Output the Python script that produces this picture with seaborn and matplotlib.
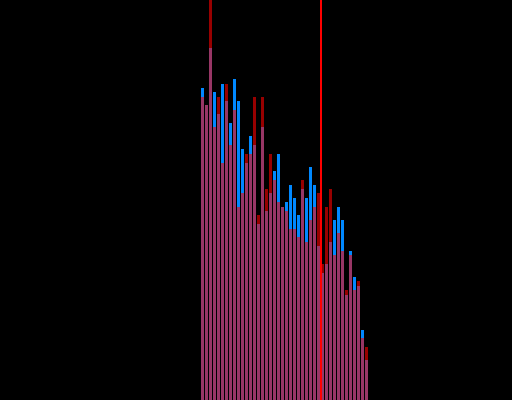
import numpy as np
import pandas as pd
import matplotlib
matplotlib.use("Agg")
import matplotlib.pyplot as plt
import seaborn as sns

# histogram counts per bin (42 bins)
bin_centers = np.arange(42) + 0.5
blue_counts = [71, 67, 80, 70, 65, 72, 68, 63, 73, 68, 57, 54, 60, 58, 40, 62, 43, 47, 52, 56, 44,
               45, 49, 46, 42, 48, 46, 53, 49, 35, 29, 31, 36, 41, 44, 41, 24, 34, 28, 26, 16, 9]
red_counts = [69, 67, 100, 62, 69, 54, 72, 58, 66, 44, 47, 56, 56, 69, 42, 69, 48, 56, 50, 45, 44,
              43, 39, 39, 37, 50, 36, 41, 44, 47, 31, 44, 48, 33, 38, 34, 25, 33, 25, 27, 14, 12]
threshold = 30

df = pd.DataFrame({"x": bin_centers, "blue": blue_counts, "red": red_counts})

sns.set_style("dark", {"axes.facecolor": "black", "figure.facecolor": "black"})
fig = plt.figure(figsize=(5.12, 4.0), dpi=100)
ax = fig.add_axes([0, 0, 1, 1])

sns.histplot(data=df, x="x", weights="blue", binwidth=1, binrange=(0, 42), color="#0088ff",
             alpha=1, shrink=0.75, linewidth=0, ax=ax)
sns.histplot(data=df, x="x", weights="red", binwidth=1, binrange=(0, 42), color="#ff0000",
             alpha=0.6, shrink=0.75, linewidth=0, ax=ax)
ax.axvline(threshold, color="#ff0000", lw=1.2, antialiased=False, zorder=5)

ax.set_xlim(-50.125, 77.875)
ax.set_ylim(0, 91)
ax.axis("off")

fig.savefig("out.png", dpi=100, facecolor="black")
